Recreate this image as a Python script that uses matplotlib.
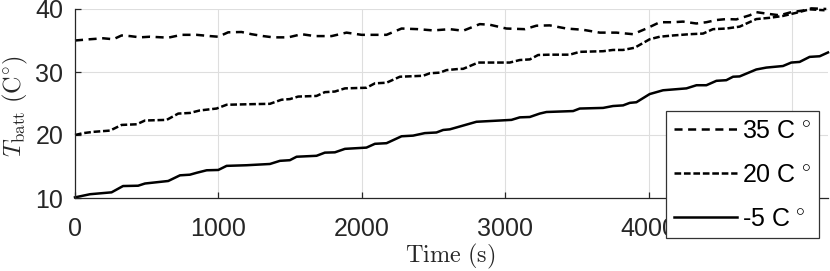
import matplotlib
matplotlib.use("Agg")
import matplotlib.pyplot as plt

plt.rcParams['font.family'] = ['Liberation Sans', 'DejaVu Sans']
plt.rcParams['mathtext.fontset'] = 'cm'
plt.rcParams['lines.scale_dashes'] = False

# ---- data ----
t35 = [0, 105, 197, 267, 325, 383, 453, 523, 650, 743, 848, 941, 999, 1068, 1161, 1231, 1312,
       1382, 1487, 1580, 1672, 1789, 1893, 1998, 2091, 2172, 2277, 2392, 2497, 2613,
       2706, 2822, 2892, 3008, 3136, 3217, 3310, 3426, 3542, 3659, 3775, 3891, 3984,
       4077, 4170, 4239, 4332, 4402, 4472, 4541, 4611, 4704, 4750, 4843, 4913, 4994,
       5075, 5134, 5238]
T35 = [35.0, 35.2, 35.35, 35.2, 35.8, 35.7, 35.5, 35.6, 35.45, 35.9, 35.9, 35.7, 35.6, 36.3, 36.35, 36.0, 35.7,
       35.5, 35.5, 36.0, 35.7, 35.7, 36.25, 35.9, 35.9, 35.9, 36.9, 36.8, 36.6, 36.8,
       36.55, 37.6, 37.5, 36.9, 36.8, 37.35, 37.4, 36.9, 36.7, 36.25, 36.25, 36.0, 36.9,
       37.9, 37.9, 38.0, 37.7, 37.9, 38.25, 38.4, 38.35, 39.0, 39.5, 39.2, 39.0, 39.5,
       39.75, 40.1, 40.0]

t20 = [0, 58, 128, 244, 325, 430, 488, 639, 720, 801, 871, 987, 1057, 1243, 1359,
       1440, 1498, 1556, 1684, 1742, 1812, 1882, 2032, 2091, 2172, 2265, 2427, 2474, 2544, 2590, 2683,
       2706, 2811, 3031, 3101, 3171, 3229, 3310, 3449, 3519, 3682, 3751, 3821, 3902, 3937, 4007,
       4077, 4170, 4286, 4379, 4448, 4541, 4634, 4750, 4843, 4936, 5029, 5122, 5226]
T20 = [20.0, 20.3, 20.5, 20.7, 21.6, 21.7, 22.3, 22.4, 23.4, 23.5, 23.9, 24.2, 24.8, 24.9, 24.95,
       25.6, 25.7, 26.1, 26.2, 26.8, 26.9, 27.4, 27.5, 28.2, 28.3, 29.25, 29.4, 29.8, 29.9, 30.3, 30.5,
       30.5, 31.5, 31.5, 31.9, 32.0, 32.7, 32.75, 32.75, 33.2, 33.3, 33.5, 33.5, 33.85, 34.3, 35.2,
       35.6, 35.8, 36.0, 36.1, 36.8, 36.9, 37.2, 38.4, 38.6, 38.9, 39.4, 39.95, 39.8]

tm5 = [0, 105, 255, 335, 440, 488, 650, 732, 801, 848, 918, 999, 1057, 1196, 1359,
       1429, 1498, 1545, 1684, 1742, 1812, 1882, 2032, 2091, 2172, 2277, 2357, 2439, 2520, 2567, 2613, 2660,
       2799, 3043, 3101, 3171, 3240, 3287, 3473, 3519, 3682, 3751, 3821, 3868, 3914, 4007,
       4100, 4263, 4333, 4402, 4472, 4541, 4588, 4634, 4750, 4820, 4936, 4994, 5052, 5122, 5192, 5250]
Tm5 = [10.1, 10.6, 10.9, 11.9, 11.95, 12.3, 12.7, 13.6, 13.7, 14.0, 14.4, 14.45, 15.1, 15.2, 15.4,
       15.9, 16.0, 16.55, 16.7, 17.2, 17.25, 17.8, 18.0, 18.6, 18.7, 19.8, 19.9, 20.3, 20.4, 20.8, 20.9, 21.2,
       22.1, 22.4, 22.8, 22.86, 23.4, 23.65, 23.8, 24.2, 24.3, 24.6, 24.7, 25.1, 25.2, 26.5,
       27.1, 27.4, 27.9, 27.9, 28.6, 28.7, 29.25, 29.3, 30.4, 30.7, 30.95, 31.5, 31.6, 32.4, 32.5, 33.1]

labels = ['35 C$^{\\,\\circ}$', '20 C$^{\\,\\circ}$', '-5 C$^{\\,\\circ}$']
xticks = [0, 1000, 2000, 3000, 4000, 5000]
yticks = [10, 20, 30, 40]

W, H = 830, 271
fig = plt.figure(figsize=(W / 100, H / 100), dpi=100)
ax = fig.add_axes([75 / W, 1 - 198 / H, (828 - 75) / W, (198 - 9) / H])

lw = 1.8
ax.plot(t35, T35, color='black', lw=lw, dashes=(5.8, 4.0), label=labels[0], clip_on=False)
ax.plot(t20, T20, color='black', lw=lw, dashes=(4.8, 2.0), label=labels[1], clip_on=False)
ax.plot(tm5, Tm5, color='black', lw=lw, linestyle='-', label=labels[2], clip_on=False)

ax.set_xlim(0, 5250)
ax.set_ylim(10, 40)
ax.set_xticks(xticks)
ax.set_yticks(yticks)
ax.grid(True, color='#dedede', lw=0.8)
ax.set_axisbelow(True)
for s in ['top', 'right']:
    ax.spines[s].set_visible(False)
for s in ['left', 'bottom']:
    ax.spines[s].set_color('#262626')
    ax.spines[s].set_linewidth(0.9)
ax.tick_params(direction='in', length=4, width=0.9, colors='#262626', labelsize=18)
ax.tick_params(axis='y', pad=8.4)
ax.tick_params(axis='x', pad=13.5)

ax.set_xlabel(r'$\mathrm{Time\ (s)}$', fontsize=17.5, color='#262626')
ax.set_ylabel(r'$T_{\mathrm{batt}}\ \mathrm{(C^{\circ})}$', fontsize=17.5, color='#262626')
ax.xaxis.set_label_coords(0.4987, (198 - 242) / 189)
ax.yaxis.set_label_coords((30 - 75) / 753, 0.484)

leg = ax.legend(loc='upper left', bbox_to_anchor=(666 / W, 1 - 111 / H),
                bbox_transform=fig.transFigure, borderaxespad=0, fontsize=18,
                handlelength=2.55, handletextpad=0.2, labelspacing=0.8,
                borderpad=0.3, fancybox=False, framealpha=1, edgecolor='#333333')
leg.get_frame().set_linewidth(0.9)
for txt in leg.get_texts():
    txt.set_color('black')

fig.savefig('out.png', dpi=100)
